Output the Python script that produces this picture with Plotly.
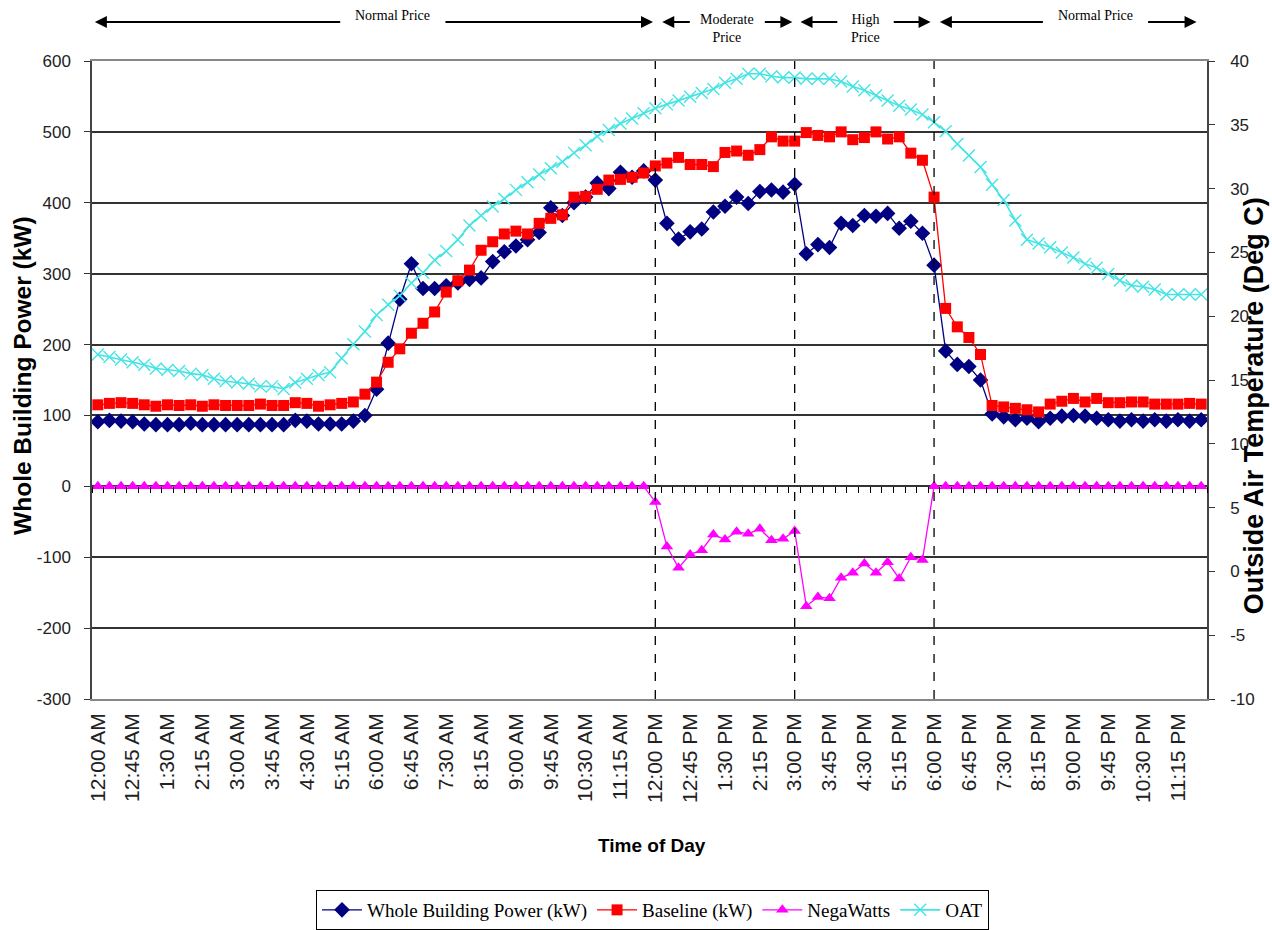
import plotly.graph_objects as go

# 15-minute intervals across one day
def _fmt(minutes):
    h, m = divmod(minutes, 60)
    suffix = "AM" if h < 12 else "PM"
    h12 = h % 12 or 12
    return f"{h12}:{m:02d} {suffix}"

TIMES = [_fmt(15 * i) for i in range(96)]

TICK_LABELS = [
    "12:00 AM", "12:45 AM", "1:30 AM", "2:15 AM", "3:00 AM", "3:45 AM", "4:30 AM", "5:15 AM",
    "6:00 AM", "6:45 AM", "7:30 AM", "8:15 AM", "9:00 AM", "9:45 AM", "10:30 AM", "11:15 AM",
    "12:00 PM", "12:45 PM", "1:30 PM", "2:15 PM", "3:00 PM", "3:45 PM", "4:30 PM", "5:15 PM",
    "6:00 PM", "6:45 PM", "7:30 PM", "8:15 PM", "9:00 PM", "9:45 PM", "10:30 PM", "11:15 PM",
]

POWER_TICKS = [-300, -200, -100, 0, 100, 200, 300, 400, 500, 600]
TEMP_TICKS = [-10, -5, 0, 5, 10, 15, 20, 25, 30, 35, 40]

WHOLE_BUILDING_KW = [
    91, 93, 92, 91, 88, 87, 87, 87, 89, 87, 87, 87, 87, 87, 87, 87,
    87, 93, 92, 88, 88, 88, 92, 100, 137, 202, 264, 314, 279, 279, 283, 287,
    292, 294, 317, 331, 339, 348, 358, 393, 382, 400, 408, 428, 420, 443, 436, 445,
    432, 371, 349, 359, 363, 387, 395, 408, 399, 416, 418, 415, 426, 328, 341, 337,
    371, 368, 382, 381, 385, 364, 374, 357, 312, 191, 172, 169, 150, 102, 98, 94,
    96, 91, 96, 99, 100, 99, 96, 94, 92, 94, 92, 94, 92, 94, 92, 94,
]

BASELINE_KW = [
    115, 117, 118, 117, 115, 113, 115, 114, 115, 113, 115, 114, 114, 114, 116, 114,
    114, 118, 117, 113, 115, 117, 119, 130, 147, 175, 194, 216, 230, 246, 274, 290,
    305, 333, 345, 356, 360, 356, 371, 378, 383, 408, 409, 419, 432, 433, 436, 442,
    452, 456, 464, 454, 454, 451, 471, 473, 467, 475, 493, 487, 487, 499, 495, 493,
    500, 489, 492, 500, 490, 493, 470, 460, 408, 251, 225, 210, 186, 114, 112, 110,
    108, 105, 116, 120, 124, 119, 124, 118, 118, 119, 119, 116, 116, 116, 117, 116,
]

NEGAWATTS = [
    0, 0, 0, 0, 0, 0, 0, 0, 0, 0, 0, 0, 0, 0, 0, 0,
    0, 0, 0, 0, 0, 0, 0, 0, 0, 0, 0, 0, 0, 0, 0, 0,
    0, 0, 0, 0, 0, 0, 0, 0, 0, 0, 0, 0, 0, 0, 0, 0,
    -22, -85, -115, -96, -90, -68, -75, -64, -67, -60, -76, -74, -63, -169, -156, -158,
    -129, -122, -109, -122, -107, -130, -100, -104, 0, 0, 0, 0, 0, 0, 0, 0,
    0, 0, 0, 0, 0, 0, 0, 0, 0, 0, 0, 0, 0, 0, 0, 0,
]

OAT_C = [
    17.0, 16.8, 16.6, 16.4, 16.2, 15.9, 15.8, 15.7, 15.5, 15.4, 15.1, 14.9, 14.8, 14.7, 14.5, 14.5,
    14.3, 14.8, 15.1, 15.4, 15.6, 16.7, 17.8, 18.8, 20.1, 20.9, 21.6, 22.6, 23.4, 24.4, 25.1, 26.0,
    27.1, 27.9, 28.6, 29.2, 29.9, 30.5, 31.1, 31.6, 32.1, 32.8, 33.4, 34.1, 34.6, 35.1, 35.5, 35.9,
    36.3, 36.6, 36.9, 37.2, 37.5, 37.8, 38.3, 38.6, 39.0, 39.0, 38.8, 38.7, 38.7, 38.6, 38.6, 38.6,
    38.4, 38.0, 37.7, 37.3, 36.9, 36.5, 36.2, 35.8, 35.2, 34.5, 33.5, 32.6, 31.7, 30.3, 29.1, 27.5,
    26.0, 25.7, 25.4, 25.0, 24.6, 24.1, 23.8, 23.3, 22.8, 22.4, 22.3, 22.1, 21.7, 21.7, 21.7, 21.7,
]

# Price periods shown above the plot
PERIOD_LABELS = ["Normal Price", "Moderate<br>Price", "High<br>Price", "Normal Price"]
EVENT_BOUNDARIES = ["12:00 PM", "3:00 PM", "6:00 PM"]

# header layout (category units): arrow tips, label centre and half-gap around the label
HEADER = [
    dict(left=-0.25, right=47.8, mid=25.4, gap=4.4, y=1.072),
    dict(left=48.6, right=59.8, mid=54.2, gap=3.1, y=1.051),
    dict(left=60.5, right=71.7, mid=66.1, gap=2.3, y=1.051),
    dict(left=72.5, right=94.6, mid=85.9, gap=4.4, y=1.072),
]

SANS = "Liberation Sans, Arial, sans-serif"
SERIF = "Liberation Serif, Times New Roman, serif"

fig = go.Figure()

fig.add_trace(go.Scatter(
    x=TIMES, y=WHOLE_BUILDING_KW, name="Whole Building Power (kW)",
    mode="lines+markers", line=dict(color="#000080", width=1.3),
    marker=dict(symbol="diamond", size=12, color="#000080"),
))
fig.add_trace(go.Scatter(
    x=TIMES, y=BASELINE_KW, name="Baseline (kW)",
    mode="lines+markers", line=dict(color="#FF0000", width=1.3),
    marker=dict(symbol="square", size=11, color="#FF0000"),
))
fig.add_trace(go.Scatter(
    x=TIMES, y=NEGAWATTS, name="NegaWatts",
    mode="lines+markers", line=dict(color="#FF00FF", width=1.3),
    marker=dict(symbol="triangle-up", size=11, color="#FF00FF"),
))
fig.add_trace(go.Scatter(
    x=TIMES, y=OAT_C, name="OAT", yaxis="y2",
    mode="lines+markers", line=dict(color="#45E4E4", width=1.6),
    marker=dict(symbol="x-thin", size=12, line=dict(color="#45E4E4", width=1.4)),
))
# carrier for the category-axis tick marks drawn along the zero line
fig.add_trace(go.Scatter(x=[None], y=[None], xaxis="x2", yaxis="y",
                         showlegend=False, hoverinfo="skip"))

# dashed separators between price periods
for t in EVENT_BOUNDARIES:
    fig.add_shape(type="line", xref="x", yref="y", x0=t, x1=t, y0=-300, y1=600,
                  line=dict(color="black", width=1.3, dash="dash"), layer="above")

# price period headers with double-headed arrows
y_arrow = 1.061
for label, hd in zip(PERIOD_LABELS, HEADER):
    fig.add_annotation(x=hd["mid"], y=hd["y"], xref="x", yref="paper",
                       xanchor="center", yanchor="middle",
                       text=label, showarrow=False,
                       font=dict(family=SERIF, size=14, color="black"))
    for tip, tail in ((hd["left"], hd["mid"] - hd["gap"]), (hd["right"], hd["mid"] + hd["gap"])):
        fig.add_annotation(x=tip, y=y_arrow, xref="x", yref="paper",
                           ax=tail, ay=0, axref="x", ayref="pixel",
                           showarrow=True, arrowhead=2, arrowsize=1.2, arrowwidth=2,
                           arrowcolor="black", text="")

# axis titles
fig.add_annotation(x=-0.063, y=0.506, xref="paper", yref="paper", textangle=-90,
                   xanchor="center", yanchor="middle",
                   text="<b>Whole Building Power (kW)</b>", showarrow=False,
                   font=dict(family=SANS, size=24.5, color="black"))
fig.add_annotation(x=1.0575, y=0.459, xref="paper", yref="paper", textangle=-90,
                   xanchor="right", yanchor="middle",
                   text="<b>Outside Air Temperature (Deg C)</b>", showarrow=False,
                   font=dict(family=SANS, size=27, color="black"))
fig.add_annotation(x=0.502, y=-0.229, xref="paper", yref="paper",
                   xanchor="center", yanchor="middle",
                   text="<b>Time of Day</b>", showarrow=False,
                   font=dict(family=SANS, size=19, color="black"))

fig.update_layout(
    width=1272, height=930,
    margin=dict(l=92, r=65, t=61, b=231, autoexpand=False),
    paper_bgcolor="white", plot_bgcolor="white",
    showlegend=True,
    legend=dict(orientation="h", x=0.5027, xanchor="center",
                yref="container", y=0.043, yanchor="top",
                font=dict(family=SERIF, size=19, color="black"),
                bordercolor="black", borderwidth=1, bgcolor="white",
                itemwidth=40, tracegroupgap=0),
    xaxis=dict(
        type="category", categoryorder="array", categoryarray=TIMES,
        range=[-0.5, 95.5], tickmode="array", tickvals=TICK_LABELS, ticktext=TICK_LABELS,
        tickangle=-90, ticks="", ticklabelstandoff=4, automargin=False,
        tickfont=dict(family=SANS, size=21, color="#222"),
        showgrid=False, showline=True, linecolor="#888", linewidth=1.5, mirror=True,
        zeroline=False,
    ),
    xaxis2=dict(
        overlaying="x", anchor="free", position=1 / 3, side="bottom",
        range=[-0.5, 95.5], tick0=-0.5, dtick=1, ticks="outside", ticklen=6,
        tickwidth=1.2, tickcolor="black", showticklabels=False, automargin=False,
        showgrid=False, showline=False, zeroline=False,
    ),
    yaxis=dict(
        range=[-300, 600], tickmode="array", tickvals=POWER_TICKS,
        ticktext=[str(v) for v in POWER_TICKS],
        ticks="outside", ticklen=6, tickcolor="#333", automargin=False,
        ticklabelstandoff=10,
        tickfont=dict(family=SANS, size=17, color="#222"),
        showgrid=True, gridcolor="#333", gridwidth=1.6,
        showline=True, linecolor="#444", linewidth=1.5, zeroline=False,
    ),
    yaxis2=dict(
        overlaying="y", side="right", range=[-10, 40], tickmode="array",
        tickvals=TEMP_TICKS, ticktext=[str(v) for v in TEMP_TICKS],
        ticks="outside", ticklen=6, tickcolor="#333", ticklabelstandoff=12,
        automargin=False,
        tickfont=dict(family=SANS, size=17, color="#222"),
        showgrid=False, showline=True, linecolor="#444", linewidth=1.5, zeroline=False,
    ),
)

fig.write_html("out.html")
